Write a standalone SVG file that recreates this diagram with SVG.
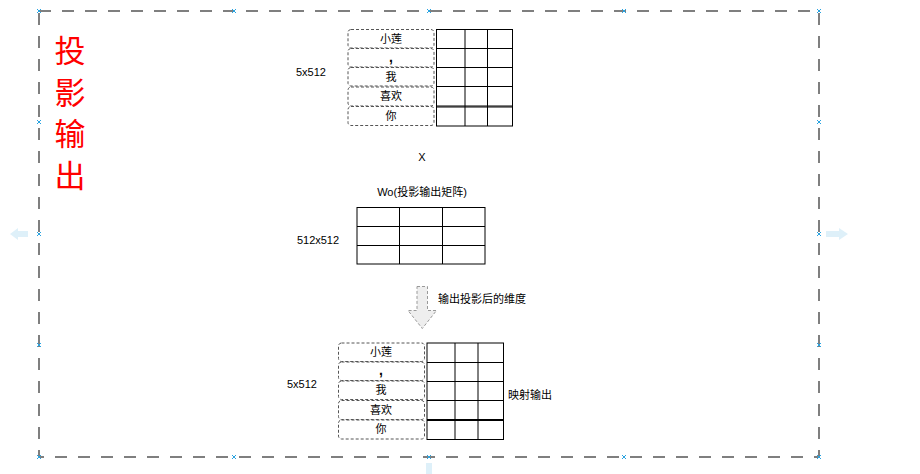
<svg xmlns="http://www.w3.org/2000/svg" width="920" height="474" viewBox="0 0 920 474">
<style>
.t{font-family:"Liberation Sans","Noto Sans CJK SC",sans-serif;font-size:11px;fill:#000}
.c{text-anchor:middle}
.cm{font-size:14px;font-weight:bold}
.lb{fill:#fff;stroke:#555;stroke-dasharray:3 2;stroke-width:1}
.g{fill:#fff;stroke:#000;stroke-width:1}
.gl{stroke:#000;stroke-width:1;fill:none}
.mk{stroke:#29a3e0;stroke-width:1}
.ha{fill:#d6ecf8;opacity:0.8}
</style>
<defs>
<g id="x"><path class="mk" d="M-2,-2L2,2M-2,2L2,-2"/></g>
</defs>
<g id="frame">
<rect x="39" y="11" width="780" height="446" fill="none" stroke="#555" stroke-width="1.5" stroke-dasharray="12 11"/>
<text x="70" y="62" style="font-family:'Noto Sans CJK SC',sans-serif;font-size:31px;fill:#ff0000" text-anchor="middle"><tspan x="70">投</tspan><tspan x="70" dy="41.7">影</tspan><tspan x="70" dy="41.7">输</tspan><tspan x="70" dy="41.7">出</tspan></text>
</g>
<g id="handles">
<use href="#x" x="39" y="11"/><use href="#x" x="234" y="11"/><use href="#x" x="429" y="11"/><use href="#x" x="624" y="11"/><use href="#x" x="819" y="11"/>
<use href="#x" x="39" y="457"/><use href="#x" x="234" y="457"/><use href="#x" x="429" y="457"/><use href="#x" x="624" y="457"/><use href="#x" x="819" y="457"/>
<use href="#x" x="39" y="122"/><use href="#x" x="39" y="234"/><use href="#x" x="39" y="345"/>
<use href="#x" x="819" y="122"/><use href="#x" x="819" y="234"/><use href="#x" x="819" y="345"/>
<path class="ha" d="M28,231 L18,231 L18,228 L10,234 L18,240 L18,237 L28,237 Z"/>
<path class="ha" d="M826,231 L839,231 L839,228 L848,234 L839,240 L839,237 L826,237 Z"/>
<rect class="ha" x="426" y="463" width="6" height="11"/>
</g>
<g id="top-matrix">
<text class="t c" x="311" y="76">5x512</text>
<rect class="lb" x="348" y="29.5" width="86" height="18.5" rx="3"/>
<rect class="lb" x="348" y="48.5" width="86" height="18.5" rx="3"/>
<rect class="lb" x="348" y="67.5" width="86" height="18.5" rx="3"/>
<rect class="lb" x="348" y="87" width="86" height="19" rx="3"/>
<rect class="lb" x="348" y="106.5" width="86" height="19" rx="3"/>
<text class="t c" x="391" y="43">小莲</text>
<text class="t c cm" x="391" y="62">,</text>
<text class="t c" x="391" y="81">我</text>
<text class="t c" x="391" y="100">喜欢</text>
<text class="t c" x="391" y="120">你</text>
<rect class="g" x="436.5" y="29.5" width="76" height="96.5"/>
<path class="gl" d="M465,29.5V126M487.5,29.5V126M436.5,48.5H512.5M436.5,67.5H512.5M436.5,86.5H512.5M436.5,106H512.5M436.5,107H512.5"/>
</g>
<g id="mult">
<text class="t c" x="422" y="161">X</text>
</g>
<g id="wo-matrix">
<text class="t c" x="422" y="196">Wo(投影输出矩阵)</text>
<text class="t c" x="318" y="244">512x512</text>
<rect class="g" x="357" y="207.5" width="128" height="56.5"/>
<path class="gl" d="M399.5,207.5V264M442.5,207.5V264M357,226.5H485M357,245.5H485"/>
</g>
<g id="connectors">
<path d="M417,286.5H427.5V310.5H436.5L422.3,328.5L408,310.5H417Z" fill="#eeeeee" stroke="#999" stroke-dasharray="3 2"/>
<text class="t" x="438" y="303">输出投影后的维度</text>
</g>
<g id="bottom-matrix">
<text class="t c" x="302" y="388">5x512</text>
<rect class="lb" x="338.5" y="343" width="86" height="18.5" rx="3"/>
<rect class="lb" x="338.5" y="362" width="86" height="18.5" rx="3"/>
<rect class="lb" x="338.5" y="381" width="86" height="18.5" rx="3"/>
<rect class="lb" x="338.5" y="400.5" width="86" height="19" rx="3"/>
<rect class="lb" x="338.5" y="420" width="86" height="19" rx="3"/>
<text class="t c" x="381" y="356">小莲</text>
<text class="t c cm" x="381" y="375">,</text>
<text class="t c" x="381" y="394">我</text>
<text class="t c" x="381" y="414">喜欢</text>
<text class="t c" x="381" y="433">你</text>
<rect class="g" x="427" y="343" width="76.5" height="96.5"/>
<path class="gl" d="M455,343V439.5M478,343V439.5M427,362.5H503.5M427,381.5H503.5M427,400.5H503.5M427,419.5H503.5M427,420.5H503.5"/>
<text class="t" x="508" y="399">映射输出</text>
</g>
</svg>
